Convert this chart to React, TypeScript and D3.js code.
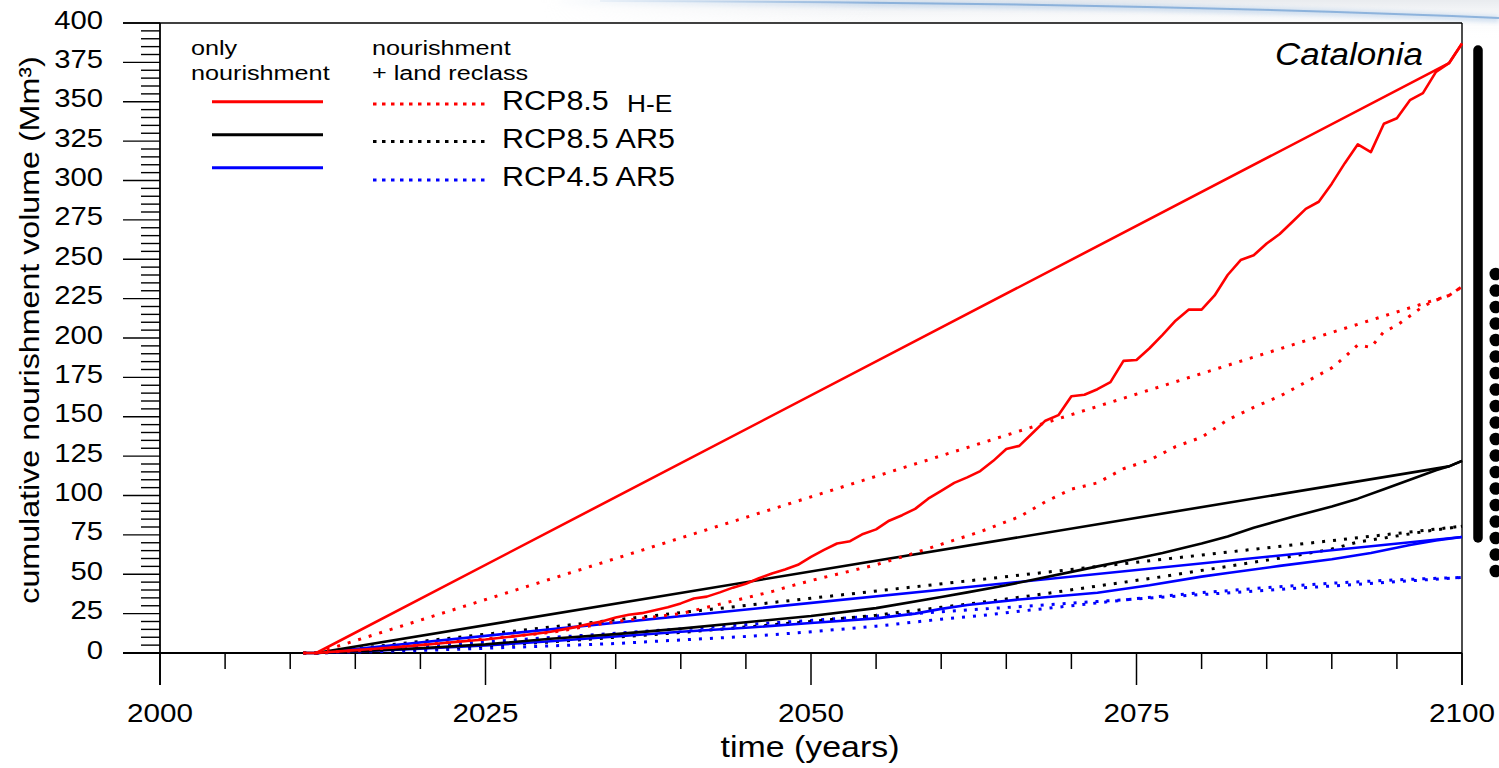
import React from "react";
import * as d3 from "d3";

// ---- data (Mm³ of cumulative nourishment, Catalonia) ----
const yearTicksMajor = [2000, 2025, 2050, 2075, 2100];
const volumeTicksMajor = [0, 25, 50, 75, 100, 125, 150, 175, 200, 225, 250, 275, 300, 325, 350, 375, 400];

// RCP8.5 H-E, only nourishment (yearly, 2011-2100)
const redSolidCurveStart = 2011;
const redSolidCurve = [
  0, 0, 0.6, 1.2, 1.8, 2.4, 3.0, 3.6, 4.3, 5.0,
  5.7, 6.5, 7.2, 7.9, 8.6, 9.5, 10.4, 11.4, 12.4, 13.5,
  15.0, 16.6, 18.5, 20.2, 22.5, 24.3, 25.3, 27.2, 29.0, 31.5,
  34.6, 35.8, 38.5, 41.5, 44.0, 47.5, 50.5, 53.0, 56.0, 61.0,
  65.5, 69.5, 71.0, 75.6, 78.5, 84.0, 87.5, 91.5, 98.0, 103.0,
  108.0, 111.5, 115.5, 122.0, 129.5, 131.5, 139.5, 147.5, 151.0, 163.0,
  164.0, 167.5, 172.0, 185.5, 186.0, 193.5, 202.0, 211.0, 218.0, 218.0,
  227.0, 240.0, 249.5, 252.5, 260.0, 266.0, 274.0, 282.0, 286.5, 298.0,
  311.0, 323.0, 318.0, 336.0, 339.5, 351.0, 355.5, 369.0, 374.5, 387.0,
];
const redSolidLinearYears = [2012, 2099, 2100];
const redSolidLinear = [0, 374.5, 387];

// RCP8.5 H-E, nourishment + land reclass
const redDotCurveYears = [2011, 2012, 2015, 2020, 2025, 2030, 2035, 2040, 2042, 2045, 2047, 2048, 2050, 2052, 2055, 2057, 2060, 2063, 2066, 2068, 2070, 2072, 2074, 2076, 2078, 2080, 2082, 2084, 2086, 2088, 2090, 2091, 2092, 2093, 2094, 2095, 2096, 2097, 2098, 2099, 2100];
const redDotCurve = [0, 0, 1.5, 5, 9, 13, 20, 25, 29, 35, 39, 41.5, 46, 50, 56, 61, 69, 77, 86.5, 96, 104, 108, 117, 122.5, 131, 137, 148, 156, 163, 172, 181, 188, 195.6, 194, 204, 208, 214, 220, 224, 227, 232.6];
const redDotLinearYears = [2012, 2099, 2100];
const redDotLinear = [0, 227, 232.6];

// RCP8.5 AR5, only nourishment
const blackSolidCurveYears = [2011, 2012, 2015, 2020, 2025, 2030, 2035, 2040, 2045, 2050, 2055, 2060, 2062, 2065, 2070, 2072, 2075, 2077, 2080, 2082, 2084, 2087, 2090, 2092, 2094, 2096, 2098, 2099, 2100];
const blackSolidCurve = [0, 0, 1.2, 3, 5.5, 9, 12, 15.5, 19.5, 23.5, 28.5, 35.5, 38.5, 43, 51.5, 55, 60, 63.5, 69.5, 74, 79.5, 86.5, 93, 98, 104, 110, 116, 118.5, 122];
const blackSolidLinearYears = [2012, 2099, 2100];
const blackSolidLinear = [0, 118.5, 122];

// RCP8.5 AR5, nourishment + land reclass
const blackDotCurveYears = [2011, 2012, 2015, 2020, 2025, 2030, 2035, 2040, 2045, 2050, 2055, 2060, 2062, 2067, 2072, 2077, 2082, 2087, 2090, 2092, 2094, 2097, 2100];
const blackDotCurve = [0, 0, 0.9, 2.7, 4.5, 7, 10, 13, 16.5, 20, 24, 29, 31, 36.5, 42.5, 48.5, 55, 61.5, 66, 70.5, 73, 77, 80.5];
const blackDotLinearYears = [2012, 2100];
const blackDotLinear = [0, 80.5];

// RCP4.5 AR5, only nourishment
const blueSolidCurveYears = [2011, 2012, 2015, 2020, 2025, 2030, 2035, 2040, 2045, 2050, 2055, 2058, 2060, 2062, 2066, 2070, 2072, 2076, 2080, 2082, 2086, 2090, 2093, 2096, 2098, 2100];
const blueSolidCurve = [0, 0, 1, 2.8, 4.8, 7.5, 10.5, 13.5, 16, 19, 22, 25, 28, 30.5, 34, 36.8, 38.3, 43, 48.5, 50.8, 55.3, 59.5, 63.5, 68.6, 71.5, 73.6];
const blueSolidLinearYears = [2012, 2100];
const blueSolidLinear = [0, 73.6];

// RCP4.5 AR5, nourishment + land reclass
const blueDotCurveYears = [2011, 2012, 2015, 2020, 2025, 2030, 2035, 2040, 2045, 2049, 2055, 2060, 2063, 2066, 2070, 2075, 2080, 2085, 2090, 2095, 2100];
const blueDotCurve = [0, 0, 0.6, 1.6, 3, 4.5, 6, 8.3, 10.5, 12.8, 17, 21.5, 23.7, 26.5, 30, 34.5, 38.3, 41.5, 44.3, 46.5, 48];
const blueDotLinearYears = [2012, 2100];
const blueDotLinear = [0, 48];

const legendRows = ["RCP8.5", "RCP8.5 AR5", "RCP4.5 AR5"];
const legendColors = ["#ff0000", "#000000", "#0000ff"];

// ---- layout ----
const W = 1499;
const H = 768;
const FONT = "'Liberation Sans', Arial, Helvetica, sans-serif";

const x = d3.scaleLinear().domain([2000, 2100]).range([160, 1462]);
const y = d3.scaleLinear().domain([0, 400]).range([653, 23]);

const line = d3
  .line<[number, number]>()
  .x((d) => x(d[0]))
  .y((d) => y(d[1]));

const zip = (ys: number[], vs: number[]) => ys.map((yr, i) => [yr, vs[i]] as [number, number]);

type LabelProps = {
  x: number;
  y: number;
  size: number;
  sx?: number;
  anchor?: "start" | "middle" | "end";
  italic?: boolean;
  rotate?: number;
  children: React.ReactNode;
};

function Label({ x: lx, y: ly, size, sx = 1.14, anchor = "start", italic, rotate, children }: LabelProps) {
  const tr = `translate(${lx},${ly})${rotate ? ` rotate(${rotate})` : ""} scale(${sx},1)`;
  return (
    <text
      transform={tr}
      fontSize={size}
      fontFamily={FONT}
      fontStyle={italic ? "italic" : "normal"}
      textAnchor={anchor}
      fill="#000"
    >
      {children}
    </text>
  );
}

export default function App() {
  const redSolidCurvePts = redSolidCurve.map((v, i) => [redSolidCurveStart + i, v] as [number, number]);

  const series = [
    { pts: zip(blueDotCurveYears, blueDotCurve), color: "#0000ff", dotted: true },
    { pts: zip(blueDotLinearYears, blueDotLinear), color: "#0000ff", dotted: true },
    { pts: zip(blackDotCurveYears, blackDotCurve), color: "#000000", dotted: true },
    { pts: zip(blackDotLinearYears, blackDotLinear), color: "#000000", dotted: true },
    { pts: zip(blueSolidCurveYears, blueSolidCurve), color: "#0000ff", dotted: false },
    { pts: zip(blueSolidLinearYears, blueSolidLinear), color: "#0000ff", dotted: false },
    { pts: zip(blackSolidCurveYears, blackSolidCurve), color: "#000000", dotted: false },
    { pts: zip(blackSolidLinearYears, blackSolidLinear), color: "#000000", dotted: false },
    { pts: zip(redDotCurveYears, redDotCurve), color: "#ff0000", dotted: true },
    { pts: zip(redDotLinearYears, redDotLinear), color: "#ff0000", dotted: true },
    { pts: redSolidCurvePts, color: "#ff0000", dotted: false },
    { pts: zip(redSolidLinearYears, redSolidLinear), color: "#ff0000", dotted: false },
  ];

  const minorY = d3.range(0, 401, 5).filter((v) => v % 25 !== 0);
  const minorX = d3.range(2000, 2101, 5).filter((v) => v % 25 !== 0);

  const legendLineY = [101.7, 134.7, 167.7];
  const legendDotY = [104, 141.5, 180];
  const legendTextY = [110, 148.3, 185.5];

  const barDots = d3.range(19).map((i) => 274 + i * 16.5);

  return (
    <div style={{ position: "absolute", left: 0, top: 0, width: W, height: H }}>
      <svg width={W} height={H} viewBox={`0 0 ${W} ${H}`} style={{ display: "block", background: "#fff" }}>
        <defs>
          <linearGradient id="hazeV" x1="0" y1="0" x2="0" y2="1">
            <stop offset="0" stopColor="#d6dbe2" stopOpacity="0.9" />
            <stop offset="1" stopColor="#ffffff" stopOpacity="0" />
          </linearGradient>
          <linearGradient id="fadeX" x1="0" y1="0" x2="1" y2="0">
            <stop offset="0" stopColor="#000" />
            <stop offset="0.35" stopColor="#fff" />
            <stop offset="1" stopColor="#fff" />
          </linearGradient>
          <mask id="hazeMask" maskUnits="userSpaceOnUse" x="540" y="0" width="959" height="80">
            <rect x={540} y={0} width={959} height={80} fill="url(#fadeX)" />
          </mask>
          <filter id="soft" x="-5%" y="-300%" width="110%" height="700%">
            <feGaussianBlur stdDeviation="2" />
          </filter>
        </defs>

        {/* faint slide backdrop along the top edge */}
        <g mask="url(#hazeMask)">
          <rect x={540} y={0} width={959} height={40} fill="url(#hazeV)" opacity={0.6} />
          <path d="M 560 2 Q 1100 2 1499 19" fill="none" stroke="#a9c6e6" strokeWidth={7} opacity={0.45} filter="url(#soft)" />
          <path d="M 600 1 Q 1120 2 1499 18" fill="none" stroke="#6d9ed3" strokeWidth={2} opacity={0.7} />
        </g>
        <rect x={160} y={23} width={1302} height={630} fill="#fff" />

        {/* frame and axes */}
        <g stroke="#000" fill="none">
          <line x1={123} y1={y(400)} x2={x(2100)} y2={y(400)} strokeWidth={1.6} />
          <line x1={x(2100)} y1={y(400)} x2={x(2100)} y2={685} strokeWidth={1.4} />
          <line x1={123} y1={y(0)} x2={x(2100)} y2={y(0)} strokeWidth={1.8} />
          <line x1={x(2000)} y1={y(400)} x2={x(2000)} y2={685} strokeWidth={1.8} />
          {volumeTicksMajor.map((v) => (
            <line key={`ym${v}`} x1={123} x2={160} y1={y(v)} y2={y(v)} strokeWidth={1.4} />
          ))}
          {minorY.map((v) => (
            <line key={`yn${v}`} x1={141} x2={160} y1={y(v)} y2={y(v)} strokeWidth={1.4} />
          ))}
          {yearTicksMajor.map((t) => (
            <line key={`xm${t}`} x1={x(t)} x2={x(t)} y1={653} y2={685} strokeWidth={1.5} />
          ))}
          {minorX.map((t) => (
            <line key={`xn${t}`} x1={x(t)} x2={x(t)} y1={653} y2={669} strokeWidth={1.5} />
          ))}
        </g>

        {/* tick labels */}
        {volumeTicksMajor.map((v) => (
          <Label key={`yl${v}`} x={103} y={y(v) + 5.5} size={25} sx={1.17} anchor="end">
            {v}
          </Label>
        ))}
        {yearTicksMajor.map((t) => (
          <Label key={`xl${t}`} x={x(t)} y={722} size={26} sx={1.14} anchor="middle">
            {t}
          </Label>
        ))}

        {/* axis titles */}
        <Label x={810} y={757} size={29.5} sx={1.15} anchor="middle">
          time (years)
        </Label>
        <Label x={39} y={330} size={28.5} sx={1.13} anchor="middle" rotate={-90}>
          cumulative nourishment volume (Mm³)
        </Label>

        {/* series */}
        <g fill="none">
          {series.map((s, i) => (
            <path
              key={i}
              d={line(s.pts) || ""}
              stroke={s.color}
              strokeWidth={s.dotted ? 3 : 2.6}
              strokeDasharray={s.dotted ? "3 8" : undefined}
              strokeLinejoin="round"
            />
          ))}
        </g>

        {/* region name */}
        <Label x={1423} y={65} size={31} sx={1.13} anchor="end" italic>
          Catalonia
        </Label>

        {/* legend */}
        <Label x={191} y={54.5} size={21} sx={1.2}>only</Label>
        <Label x={191} y={80} size={21} sx={1.2}>nourishment</Label>
        <Label x={372} y={55} size={21} sx={1.2}>nourishment</Label>
        <Label x={372} y={80} size={21} sx={1.2}>+ land reclass</Label>
        {legendRows.map((name, i) => (
          <g key={name + i}>
            <line x1={212} x2={323} y1={legendLineY[i]} y2={legendLineY[i]} stroke={legendColors[i]} strokeWidth={3} />
            <line
              x1={373}
              x2={486}
              y1={legendDotY[i]}
              y2={legendDotY[i]}
              stroke={legendColors[i]}
              strokeWidth={3}
              strokeDasharray="3.5 5.5"
            />
            <Label x={502} y={legendTextY[i]} size={27} sx={1.13}>
              {name}
            </Label>
          </g>
        ))}
        <Label x={627} y={112} size={23.5} sx={1.12}>H-E</Label>

        {/* range bars at the right edge */}
        <line x1={1478} x2={1478} y1={50} y2={538} stroke="#000" strokeWidth={9.5} strokeLinecap="round" />
        {barDots.map((cy, i) => (
          <ellipse key={i} cx={1495.5} cy={cy} rx={6} ry={6.3} fill="#000" />
        ))}
      </svg>
    </div>
  );
}
